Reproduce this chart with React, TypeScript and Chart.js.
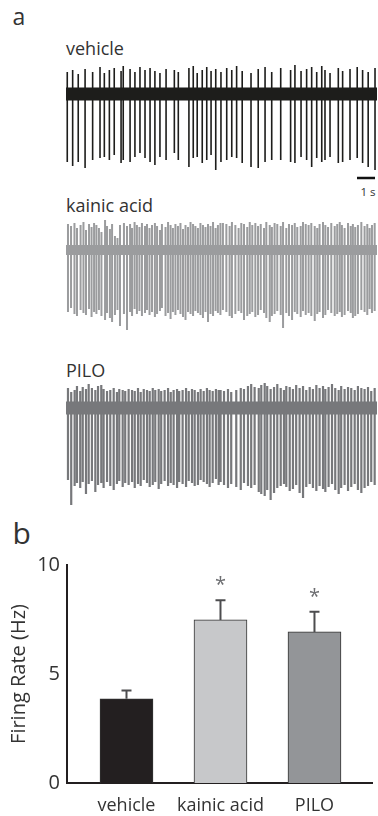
import React, { useEffect, useRef } from "react";
import { Chart, registerables } from "chart.js";

Chart.register(...registerables);

const FONT = '"Open Sans", "DejaVu Sans", sans-serif';
const TEXT = "#333333";

// ---------- panel a : spike trains (times in s, amplitudes in a.u.) ----------
const recordingDuration = 17.28;
const scaleBarStart = 16.17;
const scaleBarLength = 1;
const scaleBarLevel = -84;

const vehicleSpikeTimes = [
  0.07, 0.37, 0.68, 1.06, 1.48, 1.89, 2.13, 2.41, 2.68, 3.06, 3.18, 3.56, 3.83, 4.11, 4.39, 4.67, 4.94, 5.22, 5.56,
  6.02, 6.24, 6.83, 7.07, 7.29, 7.57, 7.82, 8.06, 8.32, 8.61, 8.93, 9.21, 9.48, 9.79, 10.28, 10.68, 11.06, 11.43,
  11.93, 12.48, 12.72, 13.06, 13.37, 13.65, 13.93, 14.21, 14.39, 14.67, 15.13, 15.37, 15.78, 16.18, 16.48, 16.79, 17.17,
];
const vehicleSpikeDown = [
  -68, -72, -68, -74, -66, -64, -63, -66, -61, -69, -66, -68, -63, -59, -64, -68, -71, -63, -66,
  -59, -66, -73, -64, -63, -69, -66, -61, -76, -68, -66, -63, -64, -69, -73, -74, -68, -66,
  -66, -68, -69, -63, -66, -73, -64, -68, -66, -63, -69, -68, -66, -64, -69, -73, -76,
];
const vehicleSpikeUp = [
  22, 24, 20, 25, 22, 27, 21, 24, 26, 23, 28, 25, 22, 27, 24, 26, 23, 21, 25,
  24, 22, 26, 28, 21, 24, 27, 23, 25, 22, 26, 24, 28, 23, 21, 25, 27, 22,
  26, 24, 29, 23, 25, 27, 22, 28, 24, 21, 26, 23, 25, 27, 24, 22, 26,
];

const kainicSpikeTimes = [
  0.11, 0.28, 0.47, 0.61, 0.81, 0.97, 1.11, 1.28, 1.42, 1.56, 1.69, 1.83, 1.97, 2.17, 2.28, 2.44, 2.56, 2.72, 2.86, 3.0,
  3.22, 3.39, 3.56, 3.67, 3.81, 3.94, 4.08, 4.22, 4.39, 4.5, 4.64, 4.78, 4.94, 5.06, 5.22, 5.33, 5.53, 5.67, 5.81, 5.94,
  6.08, 6.22, 6.36, 6.5, 6.64, 6.78, 6.92, 7.06, 7.19, 7.33, 7.47, 7.61, 7.75, 7.89, 8.03, 8.17, 8.31, 8.44, 8.58,
  8.72, 8.91, 9.09, 9.22, 9.41, 9.59, 9.74, 9.89, 10.07, 10.21, 10.35, 10.52, 10.67, 10.82, 11.0, 11.13, 11.32, 11.44,
  11.59, 11.74, 11.93, 12.06, 12.24, 12.39, 12.56, 12.71, 12.85, 13.04, 13.17, 13.32, 13.48, 13.63, 13.82, 13.96, 14.09,
  14.28, 14.41, 14.56, 14.74, 14.93, 15.07, 15.21, 15.33, 15.48, 15.67, 15.82, 15.94, 16.07, 16.22, 16.41, 16.59, 16.74,
  16.87, 17.0, 17.15,
];
const kainicSpikeDown = [
  -62, -58, -64, -66, -60, -63, -65, -59, -67, -62, -64, -60, -66, -70, -63, -68, -72, -65, -60, -76,
  -64, -80, -62, -66, -59, -64, -61, -66, -63, -60, -65, -62, -67, -64, -61, -58, -66, -63, -69, -62,
  -65, -60, -64, -67, -70, -62, -64, -66, -61, -63, -65, -68, -62, -72, -64, -66, -61, -63, -65,
  -60, -62, -66, -68, -64, -61, -63, -70, -66, -64, -62, -67, -65, -60, -63, -68, -72, -66, -64, -61,
  -65, -78, -63, -66, -70, -62, -64, -67, -61, -65, -63, -66, -71, -64, -62, -68, -65, -60, -63, -66,
  -64, -62, -67, -65, -61, -63, -68, -66, -64, -60, -62, -65, -59, -63, -61,
];
const kainicSpikeUp = [
  26, 24, 27, 22, 25, 28, 20, 26, 23, 27, 25, 22, 18, 30, 24, 21, 26, 14, 12, 25,
  27, 24, 26, 22, 28, 25, 23, 27, 24, 26, 22, 25, 27, 24, 20, 26, 23, 28, 25, 22,
  26, 24, 27, 21, 25, 23, 28, 26, 24, 22, 27, 25, 23, 26, 24, 28, 22, 25, 27,
  27, 26, 24, 28, 25, 22, 27, 26, 23, 28, 25, 27, 24, 26, 22, 28, 25, 23, 27, 26,
  24, 28, 22, 26, 25, 27, 23, 24, 28, 26, 25, 27, 24, 22, 26, 28, 25, 23, 27, 24,
  26, 28, 25, 22, 27, 24, 26, 23, 25, 28, 24, 26, 22, 25, 27,
];

const piloSpikeTimes = [
  0.11, 0.29, 0.48, 0.61, 0.79, 0.93, 1.11, 1.26, 1.44, 1.63, 1.78, 1.96, 2.09, 2.28, 2.46, 2.65, 2.83, 2.96, 3.15, 3.29,
  3.48, 3.67, 3.82, 4.0, 4.15, 4.32, 4.5, 4.65, 4.82, 4.96, 5.15, 5.29, 5.48, 5.67, 5.82, 5.98, 6.17, 6.29, 6.48, 6.67,
  6.82, 7.0, 7.15, 7.33, 7.48, 7.65, 7.83, 7.98, 8.15, 8.33, 8.48,
  8.59, 8.78, 9.0, 9.18, 9.46, 9.71, 9.89, 10.11, 10.29, 10.48, 10.71, 10.85, 11.04, 11.18, 11.37, 11.56, 11.74, 11.93,
  12.11, 12.24, 12.43, 12.61, 12.79, 12.98, 13.17, 13.35, 13.54, 13.72, 13.91, 14.09, 14.28, 14.41, 14.59, 14.78, 14.96,
  15.15, 15.29, 15.48, 15.67, 15.85, 16.04, 16.22, 16.41, 16.59, 16.78, 16.96, 17.15,
];
const piloSpikeDown = [
  -72, -97, -78, -75, -80, -74, -86, -76, -73, -84, -77, -75, -80, -74, -78, -82, -76, -73, -79, -75,
  -77, -74, -80, -76, -78, -72, -75, -79, -77, -74, -81, -76, -73, -78, -75, -77, -80, -74, -76, -79,
  -73, -75, -78, -77, -72, -74, -76, -79, -75, -71, -77,
  -74, -77, -80, -76, -79, -82, -75, -78, -80, -77, -84, -86, -88, -82, -92, -85, -80, -78, -76, -79,
  -83, -81, -77, -85, -90, -79, -76, -80, -83, -78, -81, -84, -79, -76, -82, -86, -80, -77, -83, -79,
  -76, -82, -85, -80, -78, -74, -77,
];
const piloSpikeUp = [
  20, 16, 18, 22, 17, 21, 19, 24, 20, 18, 22, 23, 19, 17, 18, 20, 16, 19, 18, 17,
  19, 18, 17, 20, 16, 19, 18, 17, 20, 18, 19, 17, 18, 20, 16, 18, 19, 17, 18, 20,
  17, 19, 18, 16, 19, 17, 20, 18, 17, 19, 18,
  18, 17, 19, 16, 18, 20, 19, 22, 24, 21, 20, 23, 25, 22, 19, 21, 24, 20, 18, 22,
  21, 19, 23, 20, 22, 18, 21, 19, 23, 20, 22, 19, 21, 24, 20, 18, 22, 19, 21, 20,
  18, 22, 20, 19, 21, 17, 20,
];

// ---------- panel b : firing rate ----------
const groups = ["vehicle", "kainic acid", "PILO"];
const firingRate = [3.86, 7.48, 6.93];
const firingSem = [0.38, 0.9, 0.93];
const significance = ["", "*", "*"];
const barColors = ["#231f20", "#c7c8ca", "#939598"];
const yTicks = [0, 5, 10];

type TraceProps = {
  times: number[];
  down: number[];
  up: number[];
  color: string;
  band: number;
  spikeWidth: number;
  yMin: number;
  yMax: number;
  left: number;
  top: number;
  width: number;
  height: number;
  scaleBar?: boolean;
};

function Trace(p: TraceProps) {
  const ref = useRef<HTMLCanvasElement>(null);
  useEffect(() => {
    const pts: { x: number; y: number }[] = [];
    p.times.forEach((t, i) => {
      pts.push({ x: t, y: 0 }, { x: t, y: p.down[i] }, { x: t, y: p.up[i] }, { x: t, y: 0 });
    });
    const datasets: any[] = [
      {
        data: [
          { x: 0, y: 0 },
          { x: recordingDuration, y: 0 },
        ],
        borderColor: p.color,
        borderWidth: p.band,
        pointRadius: 0,
        borderCapStyle: "butt",
      },
      {
        data: pts,
        borderColor: p.color,
        borderWidth: p.spikeWidth,
        pointRadius: 0,
        borderJoinStyle: "bevel",
        borderCapStyle: "butt",
      },
    ];
    if (p.scaleBar) {
      datasets.push({
        data: [
          { x: scaleBarStart, y: scaleBarLevel },
          { x: scaleBarStart + scaleBarLength, y: scaleBarLevel },
        ],
        borderColor: "#111",
        borderWidth: 2.5,
        pointRadius: 0,
        borderCapStyle: "butt",
      });
    }
    const chart = new Chart(ref.current as HTMLCanvasElement, {
      type: "line",
      data: { datasets },
      options: {
        animation: false,
        responsive: false,
        events: [],
        layout: { padding: 0 },
        plugins: { legend: { display: false }, tooltip: { enabled: false } },
        scales: {
          x: { type: "linear", display: false, min: 0, max: recordingDuration },
          y: { type: "linear", display: false, min: p.yMin, max: p.yMax },
        },
      },
    });
    return () => chart.destroy();
  }, []);
  return (
    <canvas
      ref={ref}
      width={p.width}
      height={p.height}
      style={{ position: "absolute", left: p.left, top: p.top, width: p.width, height: p.height }}
    />
  );
}

const errorPlugin = {
  id: "errorBars",
  afterDatasetsDraw(chart: any) {
    const { ctx, scales } = chart;
    const x = scales.x;
    const y = scales.y;
    ctx.save();
    firingRate.forEach((m, i) => {
      const px = x.getPixelForValue(i + 1);
      const y0 = y.getPixelForValue(m);
      const y1 = y.getPixelForValue(m + firingSem[i]);
      ctx.strokeStyle = "#4d4d4f";
      ctx.lineWidth = 2;
      ctx.beginPath();
      ctx.moveTo(px, y0);
      ctx.lineTo(px, y1);
      ctx.moveTo(px - 5, y1);
      ctx.lineTo(px + 5, y1);
      ctx.stroke();
      if (significance[i]) {
        ctx.fillStyle = "#6d6e71";
        ctx.font = `20px ${FONT}`;
        ctx.textAlign = "center";
        ctx.textBaseline = "alphabetic";
        ctx.fillText(significance[i], px, y1 - 20 + 11);
      }
    });
    ctx.restore();
  },
};

function BarPanel() {
  const ref = useRef<HTMLCanvasElement>(null);
  useEffect(() => {
    const chart = new Chart(ref.current as HTMLCanvasElement, {
      type: "bar",
      data: {
        datasets: [
          {
            data: firingRate.map((v, i) => ({ x: i + 1, y: v })),
            backgroundColor: barColors,
            borderColor: "#333333",
            borderWidth: 1,
            barThickness: 53,
          },
        ],
      },
      options: {
        animation: false,
        responsive: false,
        events: [],
        layout: { padding: { top: 45, right: 6, left: 0, bottom: 0 } },
        plugins: { legend: { display: false }, tooltip: { enabled: false } },
        scales: {
          x: {
            type: "linear",
            min: 0.367,
            max: 3.612,
            offset: false,
            bounds: "data",
            grid: { display: false, drawTicks: false, offset: false },
            border: { display: true, color: "#231f20", width: 2 },
            afterBuildTicks: (s: any) => {
              s.ticks = groups.map((_, i) => ({ value: i + 1 }));
            },
            afterFit: (s: any) => {
              s.height = 33;
            },
            ticks: {
              autoSkip: false,
              maxRotation: 0,
              padding: 12,
              color: TEXT,
              font: { family: FONT, size: 18 },
              callback: (v: any) => groups[Math.round(v) - 1] ?? "",
            },
          },
          y: {
            type: "linear",
            min: 0,
            max: 10,
            grid: { display: false, drawTicks: false },
            border: { display: true, color: "#231f20", width: 2 },
            afterBuildTicks: (s: any) => {
              s.ticks = yTicks.map((v) => ({ value: v }));
            },
            afterFit: (s: any) => {
              s.width = 67;
            },
            ticks: {
              padding: 7,
              color: TEXT,
              font: { family: FONT, size: 20 },
            },
            title: {
              display: true,
              text: "Firing Rate (Hz)",
              color: TEXT,
              font: { family: FONT, size: 20 },
              padding: { top: 7, bottom: 0 },
            },
          },
        },
      },
      plugins: [errorPlugin],
    });
    return () => chart.destroy();
  }, []);
  return (
    <canvas
      ref={ref}
      width={378}
      height={296}
      style={{ position: "absolute", left: 0, top: 520, width: 378, height: 296 }}
    />
  );
}

const label = (text: string, left: number, top: number, size: number, extra: any = {}) => (
  <div
    style={{
      position: "absolute",
      left,
      top,
      fontFamily: FONT,
      fontSize: size,
      lineHeight: 1,
      color: TEXT,
      whiteSpace: "nowrap",
      ...extra,
    }}
  >
    {text}
  </div>
);

export default function App() {
  return (
    <div style={{ position: "absolute", left: 0, top: 0, width: 378, height: 816, background: "#fff", overflow: "hidden" }}>
      {label("a", 12.5, 4.6, 23)}
      {label("vehicle", 66, 39, 18)}
      <Trace
        times={vehicleSpikeTimes}
        down={vehicleSpikeDown}
        up={vehicleSpikeUp}
        color="#1d1d1b"
        band={13}
        spikeWidth={1.6}
        yMin={-88}
        yMax={34}
        left={66}
        top={60}
        width={311}
        height={122}
        scaleBar
      />
      {label("1 s", 353, 186, 11.5, { width: 30, textAlign: "center" })}
      {label("kainic acid", 66, 195.7, 18)}
      <Trace
        times={kainicSpikeTimes}
        down={kainicSpikeDown}
        up={kainicSpikeUp}
        color="#9b9c9e"
        band={10}
        spikeWidth={2}
        yMin={-85}
        yMax={33}
        left={66}
        top={217}
        width={311}
        height={118}
      />
      {label("PILO", 66, 360.7, 18)}
      <Trace
        times={piloSpikeTimes}
        down={piloSpikeDown}
        up={piloSpikeUp}
        color="#77787b"
        band={13}
        spikeWidth={2.2}
        yMin={-102}
        yMax={26}
        left={66}
        top={382}
        width={311}
        height={128}
      />
      {label("b", 12.6, 518.4, 30)}
      <BarPanel />
    </div>
  );
}
